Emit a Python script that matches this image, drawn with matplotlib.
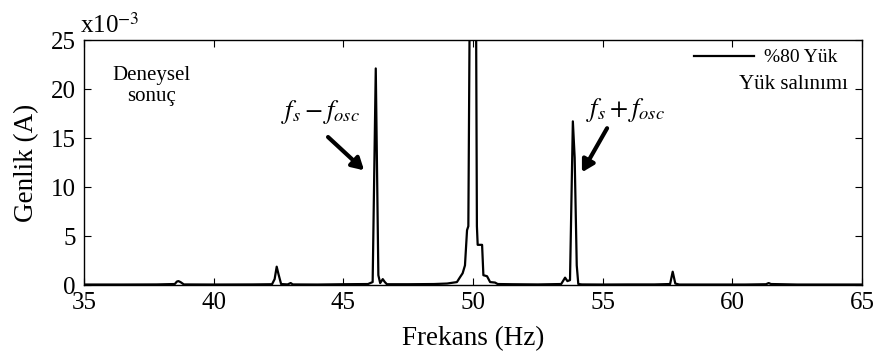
import matplotlib
matplotlib.use("Agg")
import matplotlib.pyplot as plt
from matplotlib.lines import Line2D

plt.rcParams['font.family'] = ['Liberation Serif', 'DejaVu Serif']
plt.rcParams['mathtext.fontset'] = 'stix'

# spectrum (amplitude in 1e-3 A)
freq = [35.0, 36.5, 37.8, 38.5, 38.58, 38.64, 38.72, 38.85, 40.0, 41.5,
        42.25, 42.35, 42.43, 42.5, 42.6, 42.85, 42.97, 43.05, 44.0, 45.0, 45.95,
        46.13, 46.25, 46.35, 46.42, 46.52, 46.6, 46.68, 47.5, 48.5, 49.0,
        49.38, 49.5, 49.6, 49.69, 49.77, 49.82, 49.9, 50.0, 50.1, 50.15,
        50.18, 50.35, 50.4, 50.54, 50.66, 50.85, 50.95, 51.5, 52.5, 53.4,
        53.55, 53.64, 53.74, 53.85, 53.92, 54.0, 54.06, 54.2, 55.0, 56.0,
        57.0, 57.6, 57.7, 57.8, 57.95, 59.0, 60.5, 61.3, 61.4, 61.49, 62.5,
        64.0, 65.0]
amp = [0.05, 0.05, 0.06, 0.1, 0.35, 0.4, 0.3, 0.06, 0.05, 0.06,
       0.08, 0.6, 1.87, 1.1, 0.1, 0.06, 0.2, 0.06, 0.05, 0.08, 0.1,
       0.3, 22.1, 1.0, 0.2, 0.6, 0.3, 0.08, 0.08, 0.1, 0.15,
       0.3, 0.8, 1.2, 2.0, 5.6, 6.0, 40.0, 80.0, 40.0, 6.0,
       4.1, 4.1, 1.0, 0.9, 0.3, 0.25, 0.1, 0.08, 0.06, 0.1,
       0.75, 0.4, 0.5, 16.7, 13.0, 2.0, 0.1, 0.06, 0.05, 0.06,
       0.06, 0.1, 1.36, 0.15, 0.05, 0.05, 0.05, 0.08, 0.2, 0.1, 0.05,
       0.05, 0.05]

xticks = [35, 40, 45, 50, 55, 60, 65]
yticks = [0, 5, 10, 15, 20, 25]

fig = plt.figure(figsize=(8.77, 3.56), dpi=100)
ax = fig.add_axes([0.0958, 0.1994, 0.8871, 0.6882])

ax.plot(freq, amp, color='black', lw=1.6)
ax.set_xlim(35, 65)
ax.set_ylim(0, 25)
ax.set_xticks(xticks)
ax.set_yticks(yticks)
ax.tick_params(direction='in', top=True, right=True, length=5, labelsize=18)
ax.tick_params(axis='x', pad=5)
ax.tick_params(axis='y', pad=6)
for s in ax.spines.values():
    s.set_linewidth(1.0)

ax.set_xlabel('Frekans (Hz)', fontsize=19.5, labelpad=9)
ax.set_ylabel('Genlik (A)', fontsize=19.5, labelpad=8)
ax.text(-0.005, 1.01, 'x10$^{-3}$', transform=ax.transAxes, fontsize=18,
        ha='left', va='bottom')

ax.text(37.6, 20.3, 'Deneysel\nsonuç', fontsize=15, ha='center', va='center',
        linespacing=1.2)

arrow = dict(arrowstyle='-|>,head_width=0.4,head_length=0.7', color='black',
             lw=3, shrinkA=0, shrinkB=0)
ax.annotate('', xy=(45.8, 11.7), xytext=(44.41, 15.1), arrowprops=arrow)
ax.text(44.1, 17.65, '$f_s - f_{osc}$', fontsize=19, ha='center', va='center')
ax.annotate('', xy=(54.2, 11.5), xytext=(55.17, 16.0), arrowprops=arrow)
ax.text(55.86, 17.9, '$f_s + f_{osc}$', fontsize=19, ha='center', va='center')

leg = ax.legend([Line2D([], [], color='black', lw=1.6)], ['%80 Yük'],
                loc='upper right', bbox_to_anchor=(0.978, 0.996), frameon=False,
                fontsize=14, handlelength=3.1, handletextpad=0.5,
                borderaxespad=0.0)
ax.text(0.982, 0.82, 'Yük salınımı', transform=ax.transAxes, fontsize=15,
        ha='right', va='center')

fig.savefig('out.png', dpi=100)
